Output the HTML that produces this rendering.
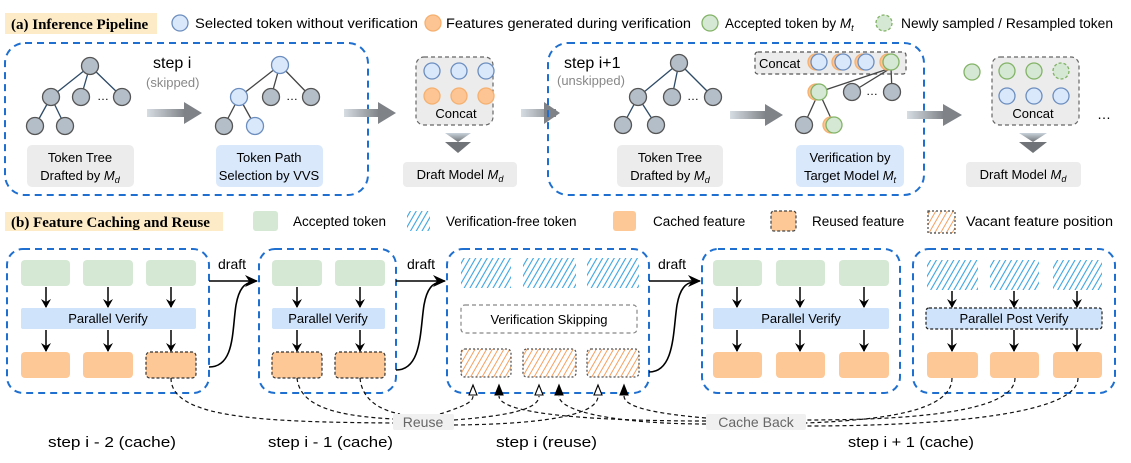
<!DOCTYPE html>
<html><head><meta charset="utf-8"><style>
html,body{margin:0;padding:0;background:#fff;}
svg{display:block;font-family:"Liberation Sans",sans-serif;}
</style></head><body>
<svg width="1131" height="463" viewBox="0 0 1131 463" xmlns="http://www.w3.org/2000/svg">
<defs>
<linearGradient id="ag" x1="0" x2="1" y1="0" y2="0"><stop offset="0" stop-color="#d6dde3"/><stop offset="1" stop-color="#7f8388"/></linearGradient>
<linearGradient id="cg" x1="0" x2="0" y1="0" y2="1"><stop offset="0" stop-color="#c9d2da"/><stop offset="1" stop-color="#707478"/></linearGradient>
<pattern id="hb" width="5" height="5" patternUnits="userSpaceOnUse" patternTransform="rotate(30)"><line x1="1" y1="0" x2="1" y2="5" stroke="#3ba3e0" stroke-width="1.1"/></pattern>
<pattern id="ho" width="5" height="5" patternUnits="userSpaceOnUse" patternTransform="rotate(30)"><line x1="1" y1="0" x2="1" y2="5" stroke="#f5a060" stroke-width="1"/></pattern>
<marker id="ah" markerWidth="10" markerHeight="10" refX="8" refY="5" orient="auto" markerUnits="userSpaceOnUse"><path d="M0,0 L9,5 L0,10 L3,5 Z" fill="#000"/></marker>
<marker id="ab" markerWidth="14" markerHeight="14" refX="12" refY="7" orient="auto" markerUnits="userSpaceOnUse"><path d="M0,1 L13,7 L0,13 L4,7 Z" fill="#000"/></marker>
</defs>

<!-- (a) header -->
<rect x="5" y="13" width="152" height="21" fill="#fdebc8"/>
<text x="11" y="29" font-family="Liberation Serif,serif" font-weight="bold" font-size="15">(a) Inference Pipeline</text>
<circle cx="180" cy="23" r="8" fill="#dae8fc" stroke="#6c8ebf" stroke-width="1.3"/>
<text x="195" y="28" font-size="13.5" textLength="223" lengthAdjust="spacingAndGlyphs">Selected token without verification</text>
<circle cx="433" cy="23" r="8" fill="#fdc593" stroke="#f5b070" stroke-width="1.3"/>
<text x="446" y="28" font-size="13.5" textLength="245" lengthAdjust="spacingAndGlyphs">Features generated during verification</text>
<circle cx="710" cy="23" r="8" fill="#d5e8d4" stroke="#82b366" stroke-width="1.3"/>
<text x="725" y="28" font-size="13.5">Accepted token by <tspan font-style="italic">M</tspan><tspan font-size="9" dy="3" font-style="italic">t</tspan></text>
<circle cx="884" cy="23" r="8" fill="#d5e8d4" stroke="#82b366" stroke-width="1.3" stroke-dasharray="3,2"/>
<text x="901" y="28" font-size="13.5" textLength="212" lengthAdjust="spacingAndGlyphs">Newly sampled / Resampled token</text>

<!-- box1 -->
<rect x="5" y="43" width="363" height="152" rx="20" fill="none" stroke="#1e6fd0" stroke-width="2" stroke-dasharray="7,5"/>
<g stroke="#2d4a66" stroke-width="1.3">
<line x1="90" y1="66" x2="51" y2="97"/><line x1="90" y1="66" x2="81" y2="97"/><line x1="90" y1="66" x2="122" y2="97"/>
<line x1="51" y1="97" x2="35" y2="126"/><line x1="51" y1="97" x2="65" y2="126"/>
</g>
<g fill="#b4bec8" stroke="#555" stroke-width="1.3">
<circle cx="90" cy="66" r="8.5"/><circle cx="51" cy="97" r="8.5"/><circle cx="81" cy="97" r="8.5"/><circle cx="122" cy="97" r="8.5"/><circle cx="35" cy="126" r="8.5"/><circle cx="65" cy="126" r="8.5"/>
</g>
<text x="97" y="100" font-size="12">…</text>
<text x="153" y="68" font-size="16">step i</text>
<text x="146" y="87" font-size="13" fill="#888">(skipped)</text>
<rect x="147" y="109" width="38" height="8" fill="url(#ag)"/><path d="M184,102 L202,113 L184,124 Z" fill="#7f8388"/>
<g stroke="#444" stroke-width="1.3">
<line x1="280" y1="65" x2="239" y2="97"/><line x1="280" y1="65" x2="271" y2="97"/><line x1="280" y1="65" x2="311" y2="97"/>
<line x1="239" y1="97" x2="224" y2="126"/><line x1="239" y1="97" x2="255" y2="126"/>
</g>
<g stroke-width="1.3">
<circle cx="280" cy="65" r="8.5" fill="#dae8fc" stroke="#6c8ebf"/><circle cx="239" cy="97" r="8.5" fill="#dae8fc" stroke="#6c8ebf"/>
<circle cx="271" cy="97" r="8.5" fill="#b4bec8" stroke="#555"/><circle cx="311" cy="97" r="8.5" fill="#b4bec8" stroke="#555"/>
<circle cx="224" cy="126" r="8.5" fill="#b4bec8" stroke="#555"/><circle cx="255" cy="126" r="8.5" fill="#dae8fc" stroke="#6c8ebf"/>
</g>
<text x="286" y="100" font-size="12">…</text>
<rect x="27" y="145" width="107" height="42" rx="5" fill="#ececec"/>
<text x="80" y="162" font-size="13" text-anchor="middle">Token Tree</text>
<text x="80" y="180" font-size="13" text-anchor="middle">Drafted by <tspan font-style="italic">M</tspan><tspan font-size="9" dy="3" font-style="italic">d</tspan></text>
<rect x="216" y="145" width="107" height="42" rx="5" fill="#dae8fc"/>
<text x="269" y="162" font-size="13" text-anchor="middle">Token Path</text>
<text x="269" y="180" font-size="13" text-anchor="middle">Selection by VVS</text>

<rect x="344" y="109" width="35" height="8" fill="url(#ag)"/><path d="M378,102 L396,113 L378,124 Z" fill="#7f8388"/>
<!-- concat1 -->
<rect x="416" y="57" width="77" height="68" rx="8" fill="#ececec" stroke="#666" stroke-width="1.2" stroke-dasharray="4,3"/>
<g stroke-width="1.3">
<circle cx="432" cy="71" r="8" fill="#dae8fc" stroke="#6c8ebf"/><circle cx="459" cy="71" r="8" fill="#dae8fc" stroke="#6c8ebf"/><circle cx="486" cy="71" r="8" fill="#dae8fc" stroke="#6c8ebf"/>
<circle cx="432" cy="96" r="8" fill="#fdc593" stroke="#f5b070"/><circle cx="459" cy="96" r="8" fill="#fdc593" stroke="#f5b070"/><circle cx="486" cy="96" r="8" fill="#fdc593" stroke="#f5b070"/>
</g>
<text x="456" y="118" font-size="13" text-anchor="middle">Concat</text>
<path d="M445,133 L471,133 L458,142 Z" fill="url(#cg)"/><path d="M445,142 L471,142 L458,153 Z" fill="#707478"/>
<rect x="403" y="162" width="114" height="25" rx="4" fill="#ececec"/>
<text x="460" y="179" font-size="13" text-anchor="middle">Draft Model <tspan font-style="italic">M</tspan><tspan font-size="9" dy="3" font-style="italic">d</tspan></text>
<rect x="521" y="109" width="35" height="8" fill="url(#ag)"/><path d="M544,102 L560,113 L544,124 Z" fill="#7f8388"/>

<!-- box2 -->
<rect x="548" y="43" width="376" height="152" rx="20" fill="none" stroke="#1e6fd0" stroke-width="2" stroke-dasharray="7,5"/>
<text x="564" y="68" font-size="16">step i+1</text>
<text x="557" y="85" font-size="13" fill="#888">(unskipped)</text>
<g stroke="#2d4a66" stroke-width="1.3">
<line x1="679" y1="63" x2="638" y2="97"/><line x1="679" y1="63" x2="672" y2="97"/><line x1="679" y1="63" x2="713" y2="97"/>
<line x1="638" y1="97" x2="623" y2="125"/><line x1="638" y1="97" x2="656" y2="125"/>
</g>
<g fill="#b4bec8" stroke="#555" stroke-width="1.3">
<circle cx="679" cy="63" r="8.5"/><circle cx="638" cy="97" r="8.5"/><circle cx="672" cy="97" r="8.5"/><circle cx="713" cy="97" r="8.5"/><circle cx="623" cy="125" r="8.5"/><circle cx="656" cy="125" r="8.5"/>
</g>
<text x="687" y="100" font-size="12">…</text>
<rect x="730" y="111" width="36" height="8" fill="url(#ag)"/><path d="M765,104 L783,115 L765,126 Z" fill="#7f8388"/>
<rect x="755" y="52" width="151" height="22" rx="3" fill="#ececec" stroke="#555" stroke-width="1.2" stroke-dasharray="4,3"/>
<text x="759" y="68" font-size="13">Concat</text>
<g stroke="#444" stroke-width="1.3">
<line x1="891" y1="68" x2="819" y2="92"/><line x1="891" y1="68" x2="852" y2="92"/><line x1="891" y1="68" x2="892" y2="92"/>
<line x1="819" y1="92" x2="804" y2="125"/><line x1="819" y1="92" x2="834" y2="125"/>
</g>
<g stroke-width="1.3">
<circle cx="816" cy="62" r="8" fill="#fdc593" stroke="#f5b070"/><circle cx="819" cy="62" r="8" fill="#dae8fc" stroke="#6c8ebf"/>
<circle cx="840" cy="62" r="8" fill="#fdc593" stroke="#f5b070"/><circle cx="843" cy="62" r="8" fill="#dae8fc" stroke="#6c8ebf"/>
<circle cx="863" cy="62" r="8" fill="#fdc593" stroke="#f5b070"/><circle cx="866" cy="62" r="8" fill="#dae8fc" stroke="#6c8ebf"/>
<circle cx="888" cy="62" r="8" fill="#fdc593" stroke="#f5b070"/><circle cx="891" cy="62" r="8" fill="#d5e8d4" stroke="#82b366"/>
<circle cx="816" cy="92" r="8" fill="#fdc593" stroke="#f5b070"/><circle cx="819" cy="92" r="8" fill="#d5e8d4" stroke="#82b366"/>
<circle cx="852" cy="92" r="8.5" fill="#b4bec8" stroke="#555"/><circle cx="892" cy="92" r="8.5" fill="#b4bec8" stroke="#555"/>
<circle cx="804" cy="125" r="8.5" fill="#b4bec8" stroke="#555"/>
<circle cx="831" cy="125" r="8" fill="#fdc593" stroke="#f5b070"/><circle cx="834" cy="125" r="8" fill="#d5e8d4" stroke="#82b366"/>
</g>
<text x="866" y="95" font-size="12">…</text>
<rect x="617" y="145" width="106" height="42" rx="5" fill="#ececec"/>
<text x="670" y="162" font-size="13" text-anchor="middle">Token Tree</text>
<text x="670" y="180" font-size="13" text-anchor="middle">Drafted by <tspan font-style="italic">M</tspan><tspan font-size="9" dy="3" font-style="italic">d</tspan></text>
<rect x="796" y="145" width="108" height="42" rx="5" fill="#dae8fc"/>
<text x="850" y="162" font-size="13" text-anchor="middle">Verification by</text>
<text x="850" y="180" font-size="13" text-anchor="middle">Target Model <tspan font-style="italic">M</tspan><tspan font-size="9" dy="3" font-style="italic">t</tspan></text>
<rect x="907" y="111" width="37" height="8" fill="url(#ag)"/><path d="M943,104 L962,115 L943,126 Z" fill="#7f8388"/>
<circle cx="972" cy="72" r="8" fill="#d5e8d4" stroke="#82b366" stroke-width="1.3"/>
<rect x="992" y="57" width="87" height="68" rx="8" fill="#ececec" stroke="#666" stroke-width="1.2" stroke-dasharray="4,3"/>
<g stroke-width="1.3">
<circle cx="1007" cy="71" r="8" fill="#d5e8d4" stroke="#82b366"/><circle cx="1034" cy="71" r="8" fill="#d5e8d4" stroke="#82b366"/><circle cx="1061" cy="71" r="8" fill="#d5e8d4" stroke="#82b366" stroke-dasharray="3,2"/>
<circle cx="1007" cy="96" r="8" fill="#dae8fc" stroke="#6c8ebf"/><circle cx="1034" cy="96" r="8" fill="#dae8fc" stroke="#6c8ebf"/><circle cx="1061" cy="96" r="8" fill="#dae8fc" stroke="#6c8ebf"/>
</g>
<text x="1033" y="118" font-size="13" text-anchor="middle">Concat</text>
<path d="M1019,133 L1047,133 L1033,142 Z" fill="url(#cg)"/><path d="M1019,142 L1047,142 L1033,153 Z" fill="#707478"/>
<rect x="966" y="162" width="115" height="25" rx="4" fill="#ececec"/>
<text x="1023" y="179" font-size="13" text-anchor="middle">Draft Model <tspan font-style="italic">M</tspan><tspan font-size="9" dy="3" font-style="italic">d</tspan></text>
<text x="1097" y="119" font-size="14">…</text>

<!-- (b) header -->
<rect x="5" y="212" width="218" height="19" fill="#fdebc8"/>
<text x="11" y="227" font-family="Liberation Serif,serif" font-weight="bold" font-size="15">(b) Feature Caching and Reuse</text>
<rect x="253" y="211" width="25" height="20" rx="3" fill="#d5e8d4"/>
<text x="293" y="226" font-size="13.5">Accepted token</text>
<rect x="407" y="211" width="23" height="20" fill="url(#hb)"/>
<text x="446" y="226" font-size="13.5">Verification-free token</text>
<rect x="613" y="211" width="23" height="20" rx="3" fill="#fdc896"/>
<text x="653" y="226" font-size="13.5">Cached feature</text>
<rect x="771" y="211" width="25" height="20" rx="3" fill="#fdc896" stroke="#444" stroke-width="1.2" stroke-dasharray="3,2"/>
<text x="812" y="226" font-size="13.5">Reused feature</text>
<rect x="928" y="211" width="27" height="22" fill="url(#ho)" stroke="#444" stroke-width="1.2" stroke-dasharray="2,2"/>
<text x="966" y="226" font-size="13.5" textLength="147" lengthAdjust="spacingAndGlyphs">Vacant feature position</text>

<!-- boxes -->
<g fill="none" stroke="#1e6fd0" stroke-width="2" stroke-dasharray="7,5">
<rect x="7" y="249" width="202" height="144" rx="16"/>
<rect x="259" y="249" width="137" height="144" rx="16"/>
<rect x="447" y="249" width="202" height="144" rx="16"/>
<rect x="702" y="249" width="198" height="144" rx="16"/>
<rect x="913" y="249" width="202" height="144" rx="16"/>
</g>
<!-- B1 -->
<g fill="#d5e8d4"><rect x="21" y="260" width="49" height="26" rx="4"/><rect x="83" y="260" width="50" height="26" rx="4"/><rect x="146" y="260" width="50" height="26" rx="4"/>
<rect x="272" y="260" width="50" height="26" rx="4"/><rect x="335" y="260" width="50" height="26" rx="4"/>
<rect x="713" y="260" width="49" height="26" rx="4"/><rect x="776" y="260" width="49" height="26" rx="4"/><rect x="839" y="260" width="50" height="26" rx="4"/></g>
<g fill="#cfe3fb"><rect x="21" y="308" width="175" height="21" rx="2"/><rect x="272" y="308" width="113" height="21" rx="2"/><rect x="713" y="308" width="176" height="21" rx="2"/></g>
<rect x="926" y="308" width="176" height="21" rx="3" fill="#cfe3fb" stroke="#222" stroke-width="1.2" stroke-dasharray="3,2"/>
<text x="108" y="323" font-size="13" text-anchor="middle">Parallel Verify</text>
<text x="328" y="323" font-size="13" text-anchor="middle">Parallel Verify</text>
<text x="801" y="323" font-size="13" text-anchor="middle">Parallel Verify</text>
<text x="1014" y="323" font-size="13" text-anchor="middle">Parallel Post Verify</text>
<g fill="#fdc896"><rect x="21" y="352" width="49" height="26" rx="4"/><rect x="83" y="352" width="50" height="26" rx="4"/>
<rect x="713" y="352" width="49" height="26" rx="4"/><rect x="776" y="352" width="49" height="26" rx="4"/><rect x="839" y="352" width="50" height="26" rx="4"/>
<rect x="927" y="352" width="51" height="26" rx="4"/><rect x="990" y="352" width="49" height="26" rx="4"/><rect x="1053" y="352" width="49" height="26" rx="4"/></g>
<g fill="#fdc896" stroke="#333" stroke-width="1.2" stroke-dasharray="3,2"><rect x="146" y="352" width="50" height="26" rx="4"/><rect x="272" y="352" width="50" height="26" rx="4"/><rect x="335" y="352" width="50" height="26" rx="4"/></g>
<!-- hatches -->
<g fill="url(#hb)"><rect x="461" y="258" width="50" height="30"/><rect x="523" y="258" width="53" height="30"/><rect x="587" y="258" width="52" height="30"/>
<rect x="927" y="260" width="51" height="30"/><rect x="990" y="260" width="49" height="30"/><rect x="1053" y="260" width="49" height="30"/></g>
<rect x="461" y="305" width="176" height="28" rx="4" fill="none" stroke="#888" stroke-width="1.2" stroke-dasharray="4,3"/>
<text x="549" y="324" font-size="13" text-anchor="middle">Verification Skipping</text>
<g fill="url(#ho)" stroke="#555" stroke-width="1.3" stroke-dasharray="2,2"><rect x="461" y="349" width="50" height="28" rx="4"/><rect x="523" y="349" width="53" height="28" rx="4"/><rect x="587" y="349" width="52" height="28" rx="4"/></g>
<!-- vertical arrows -->
<g stroke="#000" stroke-width="1.5" marker-end="url(#ah)">
<line x1="46" y1="287" x2="46" y2="307"/><line x1="108" y1="287" x2="108" y2="307"/><line x1="171" y1="287" x2="171" y2="307"/>
<line x1="46" y1="330" x2="46" y2="351"/><line x1="108" y1="330" x2="108" y2="351"/><line x1="171" y1="330" x2="171" y2="351"/>
<line x1="297" y1="287" x2="297" y2="307"/><line x1="360" y1="287" x2="360" y2="307"/>
<line x1="297" y1="330" x2="297" y2="351"/><line x1="360" y1="330" x2="360" y2="351"/>
<line x1="737" y1="287" x2="737" y2="307"/><line x1="800" y1="287" x2="800" y2="307"/><line x1="864" y1="287" x2="864" y2="307"/>
<line x1="737" y1="330" x2="737" y2="351"/><line x1="800" y1="330" x2="800" y2="351"/><line x1="864" y1="330" x2="864" y2="351"/>
<line x1="952" y1="291" x2="952" y2="307"/><line x1="1014" y1="291" x2="1014" y2="307"/><line x1="1077" y1="291" x2="1077" y2="307"/>
<line x1="952" y1="330" x2="952" y2="351"/><line x1="1014" y1="330" x2="1014" y2="351"/><line x1="1077" y1="330" x2="1077" y2="351"/>
</g>
<!-- draft arrows -->
<g stroke="#000" stroke-width="1.6" fill="none">
<line x1="209" y1="281" x2="257" y2="281" marker-end="url(#ab)"/>
<path d="M209,367 C235,367 232,330 236,305 C239,288 245,283 252,282"/>
<line x1="396" y1="281" x2="445" y2="281" marker-end="url(#ab)"/>
<path d="M396,370 C422,370 420,330 424,305 C427,288 433,283 440,282"/>
<line x1="649" y1="281" x2="700" y2="281" marker-end="url(#ab)"/>
<path d="M649,372 C675,372 673,330 677,305 C680,288 686,283 693,282"/>
</g>
<text x="218" y="269" font-size="14">draft</text>
<text x="407" y="269" font-size="14">draft</text>
<text x="658" y="269" font-size="14">draft</text>
<!-- dashed reuse / cache back -->
<g fill="none" stroke="#111" stroke-width="1.2" stroke-dasharray="4,3">
<path d="M171,378 C171,418 260,422 393,423"/>
<path d="M297,378 C300,408 340,416 393,419"/>
<path d="M360,378 C362,400 380,410 400,414"/>
<path d="M440,414 C465,406 473,402 473,396"/>
<path d="M454,420 C505,416 539,410 539,396"/>
<path d="M454,425 C560,424 598,412 598,396"/>
<path d="M952,378 C952,412 880,420 806,423"/>
<path d="M1015,378 C1015,414 900,420 806,420"/>
<path d="M1078,378 C1078,420 900,426 806,426"/>
<path d="M706,421 C600,421 499,415 499,396"/>
<path d="M706,424 C620,424 559,412 559,396"/>
<path d="M706,418 C660,414 624,408 624,396"/>
</g>
<g stroke="#000" stroke-width="1.1">
<path d="M473,385 L469,395 L477,395 Z" fill="#fff"/><path d="M539,385 L535,395 L543,395 Z" fill="#fff"/><path d="M598,385 L594,395 L602,395 Z" fill="#fff"/>
<path d="M499,385 L495,395 L503,395 Z" fill="#000"/><path d="M559,385 L555,395 L563,395 Z" fill="#000"/><path d="M624,385 L620,395 L628,395 Z" fill="#000"/>
</g>
<rect x="393" y="414" width="61" height="16" rx="2" fill="#f0f0f0"/>
<text x="423" y="427" font-size="14" fill="#666" text-anchor="middle">Reuse</text>
<rect x="706" y="414" width="100" height="16" rx="2" fill="#f0f0f0"/>
<text x="756" y="427" font-size="14" fill="#666" text-anchor="middle">Cache Back</text>
<!-- step labels -->
<text x="48" y="447" font-size="15" textLength="128" lengthAdjust="spacingAndGlyphs">step i - 2 (cache)</text>
<text x="268" y="447" font-size="15" textLength="125" lengthAdjust="spacingAndGlyphs">step i - 1 (cache)</text>
<text x="496" y="447" font-size="15" textLength="101" lengthAdjust="spacingAndGlyphs">step i (reuse)</text>
<text x="848" y="447" font-size="15" textLength="126" lengthAdjust="spacingAndGlyphs">step i + 1 (cache)</text>
</svg>
</body></html>
